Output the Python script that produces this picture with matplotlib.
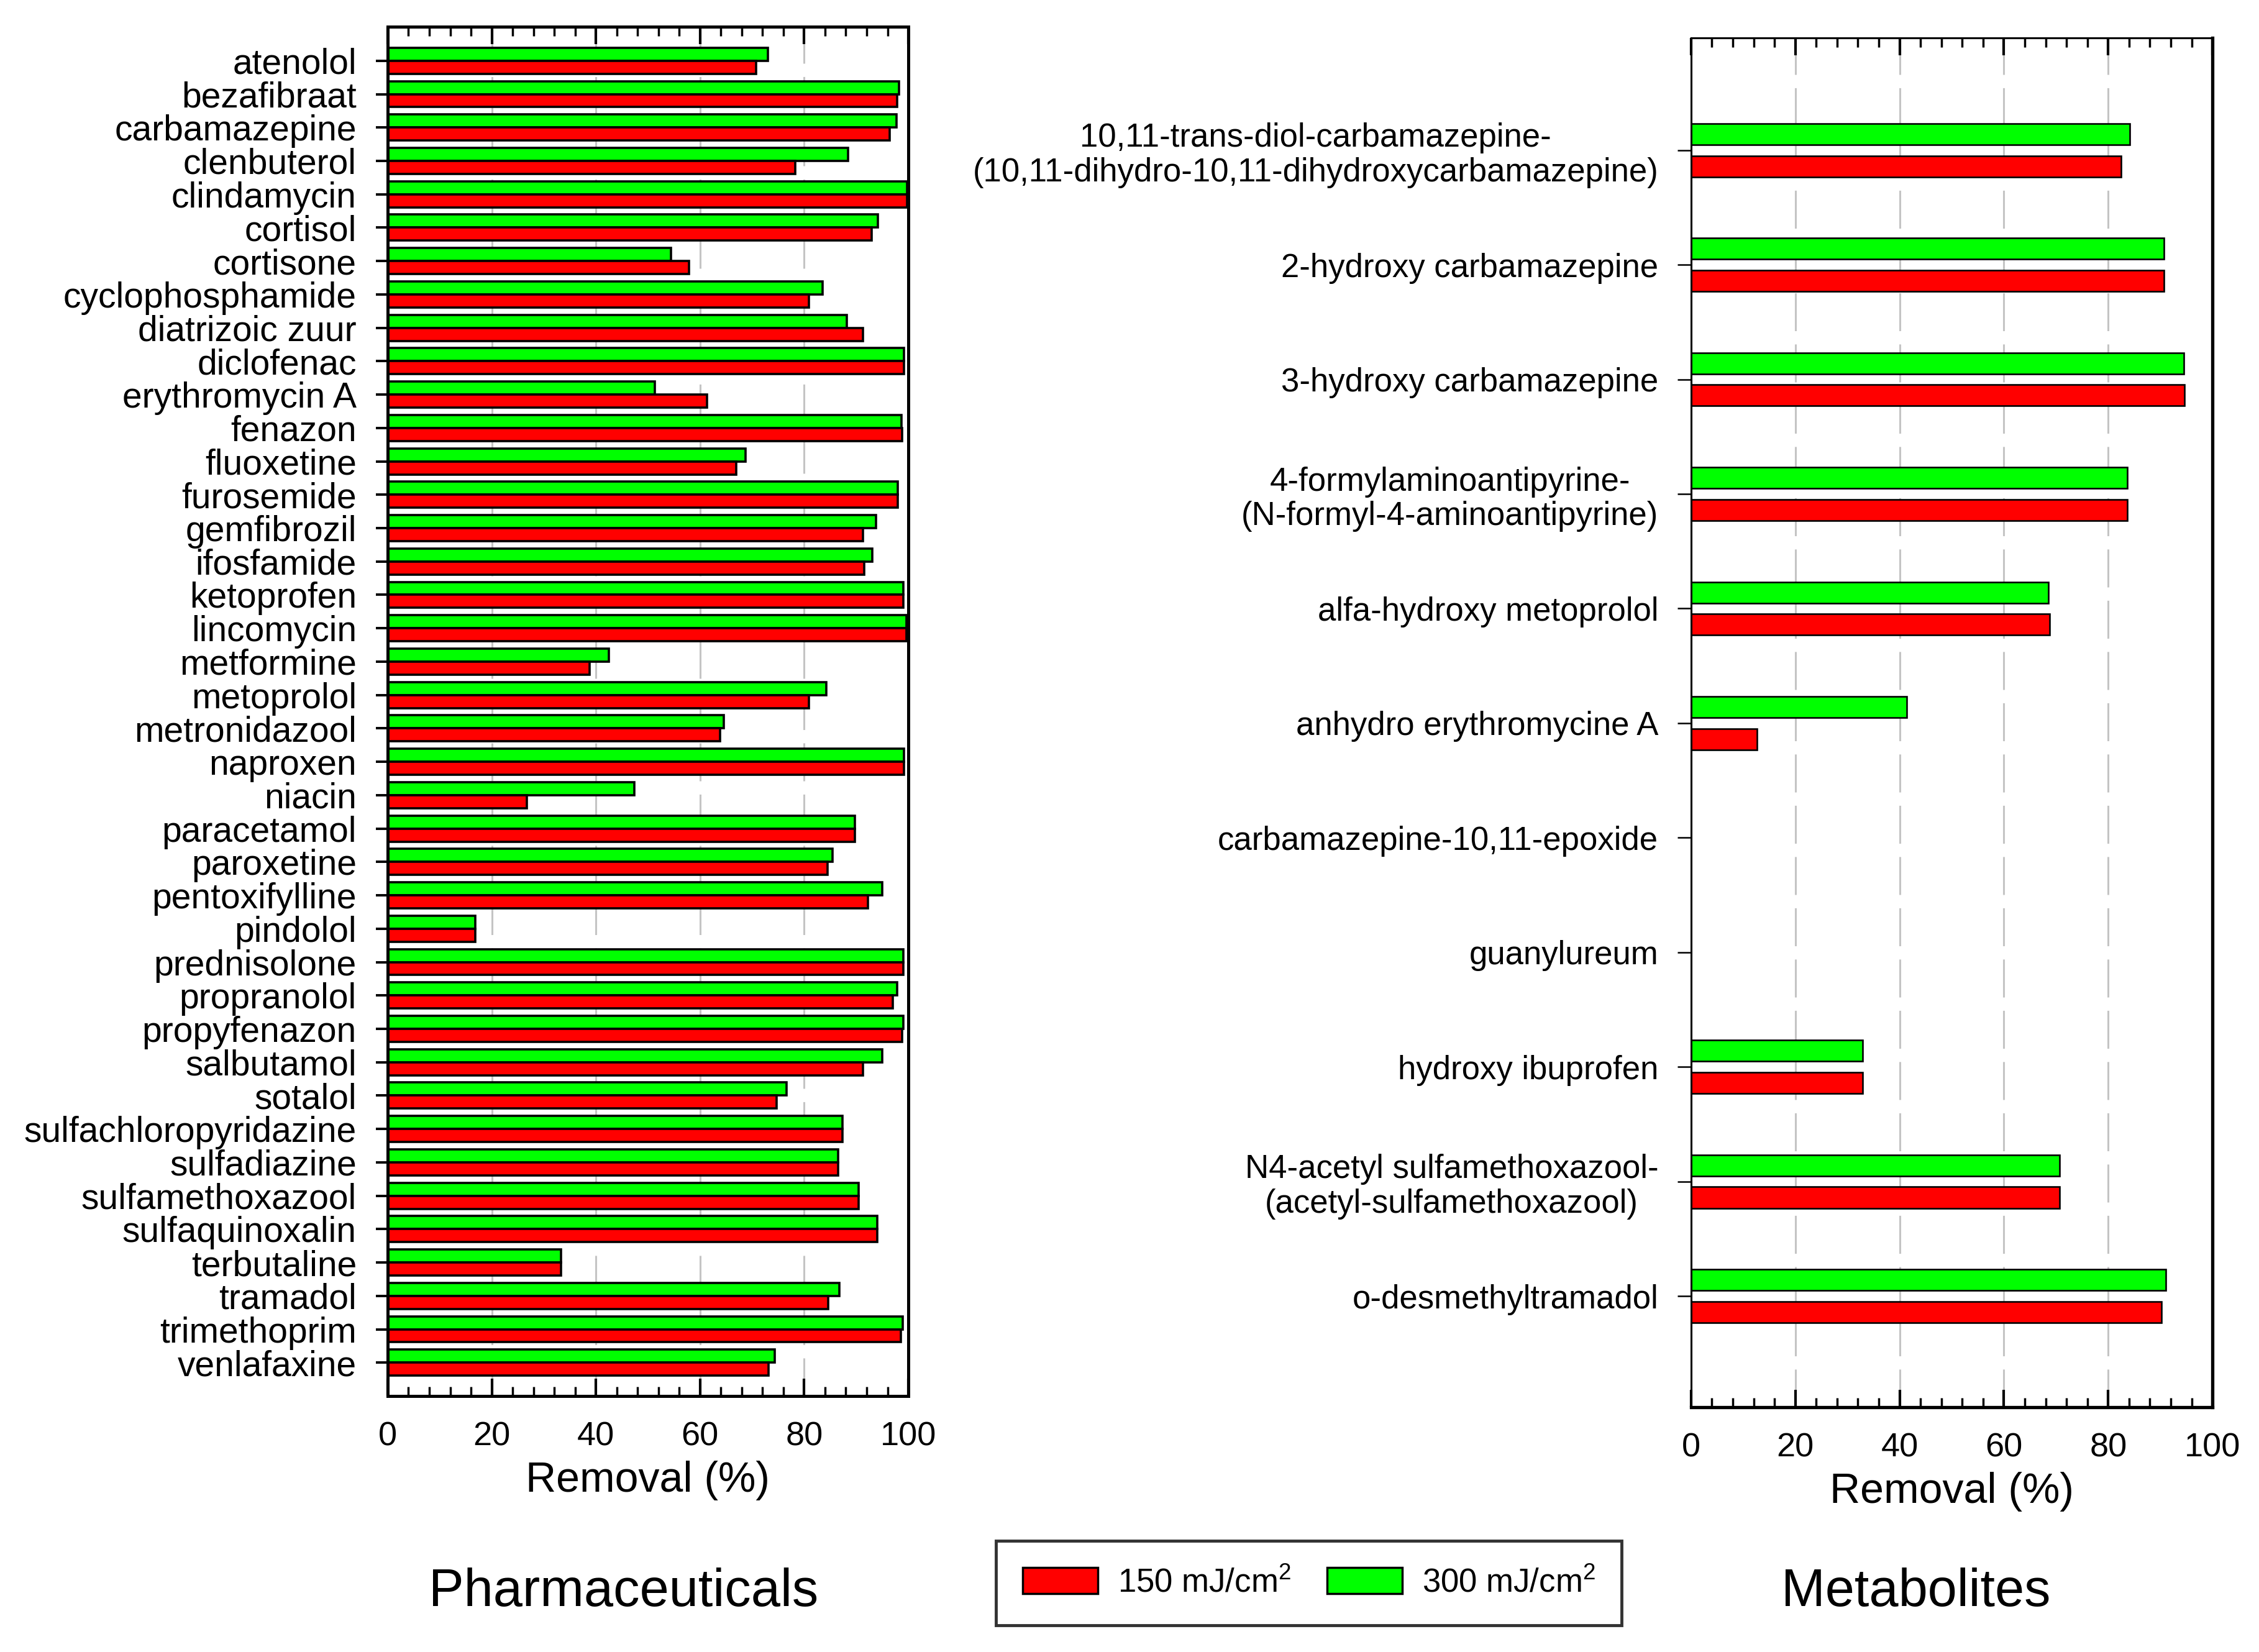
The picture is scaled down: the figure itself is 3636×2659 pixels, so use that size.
import numpy as np
import matplotlib
matplotlib.use('Agg')
from matplotlib import pyplot as plt
from matplotlib.patches import Patch
from matplotlib.ticker import MultipleLocator

plt.rcParams['font.family'] = ['Liberation Sans', 'DejaVu Sans']
plt.rcParams['mathtext.fontset'] = 'custom'
plt.rcParams['mathtext.rm'] = 'Liberation Sans'

# data: removal (%) at two UV doses
pharma = ['atenolol', 'bezafibraat', 'carbamazepine', 'clenbuterol', 'clindamycin',
          'cortisol', 'cortisone', 'cyclophosphamide', 'diatrizoic zuur', 'diclofenac',
          'erythromycin A', 'fenazon', 'fluoxetine', 'furosemide', 'gemfibrozil',
          'ifosfamide', 'ketoprofen', 'lincomycin', 'metformine', 'metoprolol',
          'metronidazool', 'naproxen', 'niacin', 'paracetamol', 'paroxetine',
          'pentoxifylline', 'pindolol', 'prednisolone', 'propranolol', 'propyfenazon',
          'salbutamol', 'sotalol', 'sulfachloropyridazine', 'sulfadiazine',
          'sulfamethoxazool', 'sulfaquinoxalin', 'terbutaline', 'tramadol',
          'trimethoprim', 'venlafaxine']
pharma_150 = [70.8, 97.9, 96.4, 78.3, 99.7, 92.9, 57.9, 80.9, 91.3, 99.2,
              61.3, 98.8, 67.0, 98.0, 91.3, 91.5, 99.0, 99.6, 38.8, 80.9,
              63.9, 99.2, 26.7, 89.7, 84.5, 92.2, 16.8, 99.1, 97.0, 98.8,
              91.3, 74.7, 87.3, 86.5, 90.5, 94.0, 33.3, 84.6, 98.6, 73.2]
pharma_300 = [73.0, 98.2, 97.7, 88.4, 99.7, 94.1, 54.4, 83.5, 88.2, 99.2,
              51.3, 98.7, 68.7, 98.0, 93.8, 93.1, 99.0, 99.6, 42.5, 84.3,
              64.6, 99.2, 47.4, 89.7, 85.4, 95.0, 16.8, 99.1, 97.9, 99.1,
              95.0, 76.6, 87.3, 86.5, 90.5, 94.0, 33.3, 86.8, 98.9, 74.4]

metab = ['10,11-trans-diol-carbamazepine-\n(10,11-dihydro-10,11-dihydroxycarbamazepine)',
         '2-hydroxy carbamazepine', '3-hydroxy carbamazepine',
         '4-formylaminoantipyrine-\n(N-formyl-4-aminoantipyrine)',
         'alfa-hydroxy metoprolol', 'anhydro erythromycine A',
         'carbamazepine-10,11-epoxide', 'guanylureum', 'hydroxy ibuprofen',
         'N4-acetyl sulfamethoxazool-\n(acetyl-sulfamethoxazool)', 'o-desmethyltramadol']
metab_150 = [82.5, 90.7, 94.6, 83.7, 68.8, 12.6, 0, 0, 32.9, 70.7, 90.2]
metab_300 = [84.1, 90.7, 94.5, 83.7, 68.5, 41.4, 0, 0, 32.9, 70.7, 91.0]

RED = '#ff0000'
GREEN = '#00ff00'

fig = plt.figure(figsize=(36.36, 26.59), dpi=100)


def style_axis(ax, spine_lw, right_lw):
    ax.set_xlim(0, 100)
    ax.xaxis.set_major_locator(MultipleLocator(20))
    ax.xaxis.set_minor_locator(MultipleLocator(4))
    ax.tick_params(axis='x', which='both', direction='in', top=True, bottom=True,
                   labelsize=39, pad=29, width=3)
    ax.tick_params(axis='x', which='major', length=20)
    ax.tick_params(axis='x', which='minor', length=11, width=2.5)
    ax.tick_params(axis='y', which='both', direction='out', length=14, width=2.8,
                   pad=22, left=True, right=False)
    for g in (20, 40, 60, 80):
        ax.axvline(g, color='#c4c4c4', lw=2.2, linestyle=(0, (20, 7)), zorder=0)
    for s in ('left', 'top'):
        ax.spines[s].set_linewidth(spine_lw)
    for s in ('right', 'bottom'):
        ax.spines[s].set_linewidth(right_lw)
    ax.set_xlabel('Removal (%)', fontsize=49, labelpad=10)


# left panel: pharmaceuticals
ax1 = fig.add_axes([0.1716, 0.15495, 0.2305, 0.82888])
y1 = np.arange(len(pharma))
h1 = 0.39
ax1.barh(y1 - h1 / 2, pharma_300, height=h1, color=GREEN, edgecolor='black', lw=2.6, zorder=2)
ax1.barh(y1 + h1 / 2, pharma_150, height=h1, color=RED, edgecolor='black', lw=2.6, zorder=2)
ax1.set_yticks(y1)
ax1.set_yticklabels(pharma, fontsize=41)
ax1.set_ylim(len(pharma) - 1 + 1.0, -1.02)
style_axis(ax1, 3.6, 3.6)

# right panel: metabolites
ax2 = fig.add_axes([0.7486, 0.14818, 0.2308, 0.82888])
y2 = np.arange(len(metab))
h2 = 0.185
off = 0.14
ax2.barh(y2 - off, metab_300, height=h2, color=GREEN, edgecolor='black', lw=1.9, zorder=2)
ax2.barh(y2 + off, metab_150, height=h2, color=RED, edgecolor='black', lw=1.9, zorder=2)
ax2.set_yticks(y2)
ax2.set_yticklabels(metab, fontsize=38, multialignment='center', linespacing=1.15)
ax2.set_ylim(len(metab) - 1 + 0.97, -0.98)
style_axis(ax2, 2.2, 3.8)
ax2.tick_params(axis='y', width=1.8, length=16)

fig.text(1004 / 3636, 1 - 2563 / 2659, 'Pharmaceuticals', fontsize=61,
         ha='center', va='center')
fig.text(3084 / 3636, 1 - 2563 / 2659, 'Metabolites', fontsize=61,
         ha='center', va='center')

handles = [Patch(facecolor=RED, edgecolor='black', lw=2.5),
           Patch(facecolor=GREEN, edgecolor='black', lw=2.5)]
leg = fig.legend(handles, ['150 mJ/cm$^2$', '300 mJ/cm$^2$'], ncol=2, loc='center',
                 bbox_to_anchor=(0.5794, 1 - 2548 / 2659), fontsize=38,
                 frameon=True, fancybox=False, edgecolor='black',
                 handlelength=2.3, handleheight=0.85, handletextpad=0.6,
                 columnspacing=1.1, borderpad=0.8)
leg.get_frame().set_linewidth(3.5)

fig.savefig('out.png', dpi=100)
